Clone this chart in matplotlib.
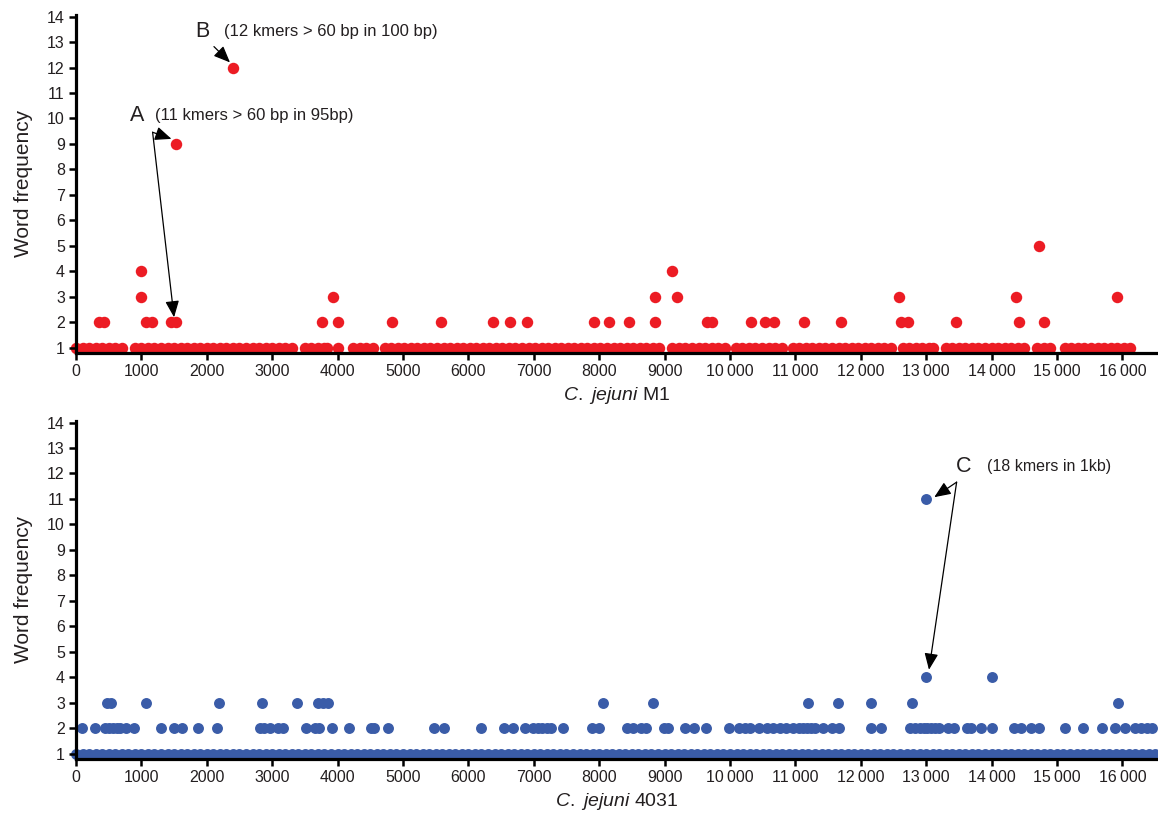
import matplotlib
matplotlib.use("Agg")
import matplotlib.pyplot as plt
from matplotlib.ticker import FuncFormatter

plt.rcParams['font.family'] = ['Liberation Sans', 'DejaVu Sans']
plt.rcParams['mathtext.fontset'] = 'custom'
plt.rcParams['mathtext.it'] = 'Liberation Sans:italic'
plt.rcParams['mathtext.rm'] = 'Liberation Sans'

RED = '#ec1c24'
BLUE = '#3a5ca8'
INK = '#231f20'

# ---- C. jejuni M1 (top) : positions (bp) per word frequency ----
m1_f1 = [0, 100, 200, 300, 400, 500, 600, 700,
         900, 1000, 1100, 1200, 1300, 1400, 1500, 1600, 1700, 1800, 1900, 2000,
         2100, 2200, 2300, 2400, 2500, 2600, 2700, 2800, 2900, 3000, 3100, 3200, 3300,
         3500, 3600, 3700, 3800, 3840,
         4010,
         4240, 4340, 4440, 4540,
         4720, 4820, 4920, 5020, 5120, 5220, 5320, 5420, 5520, 5620, 5720, 5820,
         5920, 6020, 6120, 6220, 6320, 6420, 6520, 6620, 6720, 6820, 6920, 7020,
         7120, 7220, 7320, 7420, 7520, 7620, 7720, 7820, 7920, 8020, 8120, 8220,
         8320, 8420, 8520, 8620, 8720, 8820, 8920,
         9120, 9220, 9320, 9420, 9520, 9620, 9720, 9820, 9920,
         10090, 10190, 10290, 10390, 10490, 10590, 10690, 10790,
         10960, 11060, 11160, 11260, 11360, 11460, 11560, 11660, 11760, 11860,
         11960, 12060, 12160, 12260, 12360, 12460,
         12640, 12740, 12840, 12940, 13040, 13110,
         13300, 13400, 13500, 13600, 13700, 13800, 13900, 14000, 14100, 14200,
         14300, 14400, 14500,
         14700, 14800, 14900,
         15120, 15220, 15320, 15420, 15520, 15620, 15720, 15820, 15920, 16020, 16120]
m1_f2 = [350, 425, 1075, 1160, 1455, 1530, 3755, 4000, 4825, 5575, 6370, 6630,
         6890, 7920, 8150, 8460, 8850, 9650, 9720, 10320, 10530, 10670, 11130,
         11700, 12620, 12720, 13450, 14420, 14800]
m1_f3 = [995, 3930, 8850, 9190, 12590, 14370, 15920]
m1_f4 = [998, 9120]
m1_f5 = [14720]
m1_f9 = [1530]
m1_f12 = [2400]

# ---- C. jejuni 4031 (bottom) ----
c4031_f1 = [0, 100, 200, 300, 400, 500, 600, 700, 800, 900, 1000, 1100, 1200,
            1300, 1400, 1500, 1600, 1700, 1800, 1900, 2000, 2100, 2200, 2300, 2400,
            2500, 2600, 2700, 2800, 2900, 3000, 3100, 3200, 3300, 3400, 3500, 3600,
            3700, 3800, 3900, 4000, 4100, 4200, 4300, 4400, 4500, 4600, 4700, 4800,
            4900, 5000, 5100, 5200, 5300, 5400, 5500, 5600, 5700, 5800, 5900, 6000,
            6100, 6200, 6300, 6400, 6500, 6600, 6700, 6800, 6900, 7000, 7100, 7200,
            7300, 7400, 7500, 7600, 7700, 7800, 7900, 8000, 8100, 8200, 8300, 8400,
            8500, 8600, 8700, 8800, 8900, 9000, 9100, 9200, 9300, 9400, 9500, 9600,
            9700, 9800, 9900, 10000, 10100, 10200, 10300, 10400, 10500, 10600, 10700,
            10800, 10900, 11000, 11100, 11200, 11300, 11400, 11500, 11600, 11700,
            11800, 11900, 12000, 12100, 12200, 12300, 12400, 12500, 12600, 12700,
            12800, 12900, 13000, 13100, 13200, 13300, 13400, 13500, 13600, 13700,
            13800, 13900, 14000, 14100, 14200, 14300, 14400, 14500, 14600, 14700,
            14800, 14900, 15000, 15100, 15200, 15300, 15400, 15500, 15600, 15700,
            15800, 15900, 16000, 16100, 16200, 16300, 16400, 16500]
c4031_f2 = [90, 290, 440, 500, 560, 620, 680, 760, 880, 1300, 1500, 1620, 1870,
            2160, 2810, 2880, 2960, 3090, 3170, 3510, 3660, 3710, 3910, 4170, 4510,
            4560, 4770, 5470, 5620, 6200, 6550, 6680, 6860, 6990, 7070, 7130, 7200,
            7260, 7440, 7890, 8000, 8420, 8510, 8640, 8720, 8990, 9060, 9310, 9450,
            9640, 9980, 10140, 10230, 10310, 10440, 10560, 10660, 10760, 10860,
            10960, 11050, 11120, 11180, 11240, 11300, 11420, 11560, 11660, 12160,
            12310, 12760, 12830, 12900, 12960, 13020, 13080, 13140, 13200, 13330,
            13430, 13620, 13690, 13840, 14000, 14350, 14450, 14600, 14720, 15120,
            15400, 15690, 15880, 16040, 16200, 16290, 16370, 16450]
c4031_f3 = [470, 530, 1070, 2190, 2850, 3380, 3700, 3770, 3850, 8060, 8820, 11200,
            11650, 12160, 12780, 15930]
c4031_f4 = [12990, 14000]
c4031_f11 = [13000]

xticks = list(range(0, 16001, 1000))
yticks = list(range(1, 15))


def bp_fmt(v, pos):
    v = int(round(v))
    if v >= 10000:
        return f"{v // 1000}\u2009{v % 1000:03d}"
    return str(v)


def draw_levels(ax, levels, color, size):
    for freq, xs in levels:
        ax.scatter(xs, [freq] * len(xs), s=size, color=color, linewidths=0,
                   zorder=1, clip_on=False)


def style_axis(ax, label):
    ax.set_xlim(0, 16545)
    ax.set_ylim(0.8, 14.07)
    ax.spines['top'].set_visible(False)
    ax.spines['right'].set_visible(False)
    for s in ('left', 'bottom'):
        ax.spines[s].set_linewidth(2.3)
        ax.spines[s].set_color('black')
        ax.spines[s].set_zorder(3)
    ax.set_xticks(xticks)
    ax.set_yticks(yticks)
    ax.xaxis.set_major_formatter(FuncFormatter(bp_fmt))
    ax.tick_params(axis='both', length=5, width=1.8, color='black',
                   labelcolor=INK, labelsize=11.5, pad=3)
    ax.set_ylabel('Word frequency', fontsize=15, color=INK, labelpad=10)
    ax.set_xlabel(label, fontsize=14, color=INK, labelpad=4)


arrow = dict(arrowstyle='-|>,head_length=1.0,head_width=0.42', color='black',
             lw=0.9, shrinkA=0, shrinkB=0)

fig = plt.figure(figsize=(11.58, 8.19), dpi=100)
ax1 = fig.add_axes([0.0656, 0.569, 0.9344, 0.413])
ax2 = fig.add_axes([0.0656, 0.0733, 0.9344, 0.413])

draw_levels(ax1, [(1, m1_f1), (2, m1_f2), (3, m1_f3), (4, m1_f4), (5, m1_f5),
                  (9, m1_f9), (12, m1_f12)], RED, 68)
style_axis(ax1, r'$\mathit{C.}$ $\mathit{jejuni}$ M1')

ax1.text(1940, 13.41, 'B', fontsize=15.5, color=INK, ha='center', va='center')
ax1.text(2263, 13.41, '(12 kmers > 60 bp in 100 bp)', fontsize=12, color=INK,
         ha='left', va='center')
ax1.annotate('', xy=(2355, 12.2), xytext=(2110, 12.82), arrowprops=arrow)

ax1.text(933, 10.12, 'A', fontsize=15.5, color=INK, ha='center', va='center')
ax1.text(1208, 10.12, '(11 kmers > 60 bp in 95bp)', fontsize=12, color=INK,
         ha='left', va='center')
ax1.annotate('', xy=(1460, 9.2), xytext=(1172, 9.46), arrowprops=arrow)
ax1.annotate('', xy=(1500, 2.2), xytext=(1172, 9.46), arrowprops=arrow)

draw_levels(ax2, [(1, c4031_f1), (2, c4031_f2), (3, c4031_f3), (4, c4031_f4),
                  (11, c4031_f11)], BLUE, 62)
style_axis(ax2, r'$\mathit{C.}$ $\mathit{jejuni}$ 4031')

ax2.text(13578, 12.27, 'C', fontsize=15.5, color=INK, ha='center', va='center')
ax2.text(13930, 12.27, '(18 kmers in 1kb)', fontsize=11.5, color=INK,
         ha='left', va='center')
ax2.annotate('', xy=(13124, 11.07), xytext=(13466, 11.66), arrowprops=arrow)
ax2.annotate('', xy=(13043, 4.3), xytext=(13466, 11.66), arrowprops=arrow)

fig.savefig('out.png', dpi=100)
